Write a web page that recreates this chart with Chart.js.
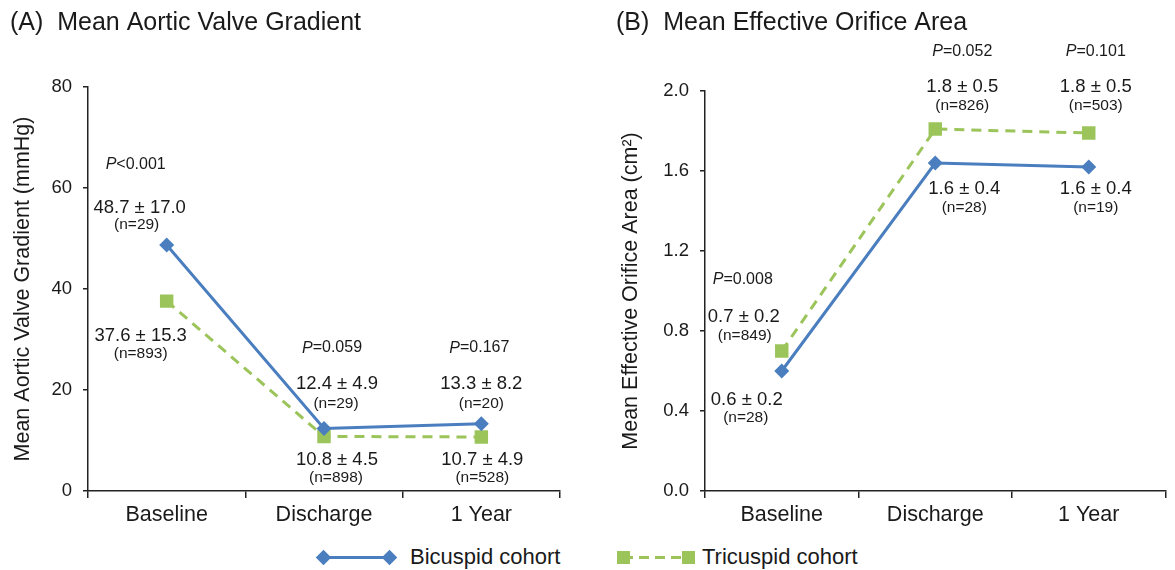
<!DOCTYPE html>
<html>
<head>
<meta charset="utf-8">
<script src="https://cdn.jsdelivr.net/npm/chart.js@4.4.1/dist/chart.umd.min.js"></script>
<style>
  body { margin: 0; background: #fff; }
  #wrap { position: relative; width: 1175px; height: 570px; overflow: hidden; font-family: "Liberation Sans", Arial, sans-serif; }
  #cA { position: absolute; left: 0; top: 0; }
  #cB { position: absolute; left: 590px; top: 0; }
  .legline { position: absolute; height: 3px; }
  .legmark { position: absolute; }
  .legtxt { position: absolute; font-size: 22px; line-height: 26px; color: #1a1a1a; white-space: nowrap; }
</style>
</head>
<body>
<div id="wrap">
  <canvas id="cA" width="590" height="540"></canvas>
  <canvas id="cB" width="585" height="540"></canvas>
</div>
<script>
const categories = ['Baseline', 'Discharge', '1 Year'];
const seriesNames = ['Bicuspid cohort', 'Tricuspid cohort'];

// (A) mean aortic valve gradient, mmHg
const gradBicuspid = [48.7, 12.4, 13.3];
const gradTricuspid = [37.6, 10.8, 10.7];
const gradTicks = [0, 20, 40, 60, 80];

// (B) mean effective orifice area, cm2
const eoaBicuspid = [0.6, 1.64, 1.62];
const eoaTricuspid = [0.7, 1.81, 1.79];
const eoaTicks = [0, 0.4, 0.8, 1.2, 1.6, 2.0];

// text next to the points: [category, y value, x shift, text, kind]
const gradNotes = [
  [0, 64.6, -31, 'P<0.001', 'p'],
  [0, 56.0, -27, '48.7 \u00b1 17.0', 'v'],
  [0, 52.7, -30, '(n=29)', 'n'],
  [0, 30.7, -26, '37.6 \u00b1 15.3', 'v'],
  [0, 27.1, -26, '(n=893)', 'n'],
  [1, 28.3, 8, 'P=0.059', 'p'],
  [1, 21.2, 13, '12.4 \u00b1 4.9', 'v'],
  [1, 17.2, 12, '(n=29)', 'n'],
  [1, 6.1, 13, '10.8 \u00b1 4.5', 'v'],
  [1, 2.6, 12, '(n=898)', 'n'],
  [2, 28.3, -2, 'P=0.167', 'p'],
  [2, 21.2, 0, '13.3 \u00b1 8.2', 'v'],
  [2, 17.2, 0, '(n=20)', 'n'],
  [2, 6.1, 1, '10.7 \u00b1 4.9', 'v'],
  [2, 2.6, 1, '(n=528)', 'n']
];
const eoaNotes = [
  [0, 1.055, -39, 'P=0.008', 'p'],
  [0, 0.87, -38, '0.7 \u00b1 0.2', 'v'],
  [0, 0.775, -37, '(n=849)', 'n'],
  [0, 0.455, -35, '0.6 \u00b1 0.2', 'v'],
  [0, 0.365, -36, '(n=28)', 'n'],
  [1, 2.195, 27, 'P=0.052', 'p'],
  [1, 2.02, 27, '1.8 \u00b1 0.5', 'v'],
  [1, 1.925, 27, '(n=826)', 'n'],
  [1, 1.51, 29, '1.6 \u00b1 0.4', 'v'],
  [1, 1.415, 29, '(n=28)', 'n'],
  [2, 2.195, 7, 'P=0.101', 'p'],
  [2, 2.02, 7, '1.8 \u00b1 0.5', 'v'],
  [2, 1.925, 7, '(n=503)', 'n'],
  [2, 1.51, 7, '1.6 \u00b1 0.4', 'v'],
  [2, 1.415, 7, '(n=19)', 'n']
];

const FONT = '"Liberation Sans", Arial, sans-serif';
const TXT = '#1a1a1a';
const AXIS = '#222';
const BLUE = '#4a7ebf';
const GREEN = '#9bc45a';

function notesPlugin(items) {
  return {
    id: 'notes',
    afterDraw(chart) {
      const ctx = chart.ctx;
      const x = chart.scales.x, y = chart.scales.y;
      ctx.save();
      ctx.fillStyle = TXT;
      ctx.textBaseline = 'middle';
      ctx.textAlign = 'left';
      items.forEach(n => {
        const cx = x.getPixelForValue(n[0]) + n[2];
        const cy = y.getPixelForValue(n[1]);
        if (n[4] === 'p') {
          // italic P, rest upright
          const rest = n[3].slice(1);
          ctx.font = 'italic 16px ' + FONT;
          const w1 = ctx.measureText('P').width;
          ctx.font = '16px ' + FONT;
          const w2 = ctx.measureText(rest).width;
          const x0 = cx - (w1 + w2) / 2;
          ctx.font = 'italic 16px ' + FONT;
          ctx.fillText('P', x0, cy);
          ctx.font = '16px ' + FONT;
          ctx.fillText(rest, x0 + w1, cy);
        } else {
          ctx.font = (n[4] === 'v' ? '18.5px ' : '15.5px ') + FONT;
          const w = ctx.measureText(n[3]).width;
          ctx.fillText(n[3], cx - w / 2, cy);
        }
      });
      ctx.restore();
    }
  };
}

function makeChart(id, opt) {
  return new Chart(document.getElementById(id), {
    type: 'line',
    data: {
      labels: categories,
      datasets: [
        {
          label: seriesNames[0],
          data: opt.bic,
          borderColor: BLUE,
          backgroundColor: BLUE,
          borderWidth: 3,
          tension: 0,
          pointStyle: 'rectRot',
          pointRadius: 7.5,
          pointBorderWidth: 0,
          pointBackgroundColor: BLUE
        },
        {
          label: seriesNames[1],
          data: opt.tri,
          borderColor: GREEN,
          backgroundColor: GREEN,
          borderWidth: 3,
          borderDash: [10, 7],
          tension: 0,
          pointStyle: 'rect',
          pointRadius: 9.5,
          pointBorderWidth: 0,
          pointBackgroundColor: GREEN
        }
      ]
    },
    options: {
      responsive: false,
      animation: false,
      events: [],
      layout: { padding: { left: opt.padLeft, right: opt.padRight, top: 0, bottom: 0 } },
      plugins: {
        legend: { display: false },
        tooltip: { enabled: false },
        title: {
          display: true,
          text: opt.title,
          align: 'start',
          color: TXT,
          font: { family: FONT, size: 25, weight: 'normal' },
          padding: { top: 8, bottom: opt.titleGap }
        }
      },
      scales: {
        x: {
          offset: true,
          border: { display: true, color: AXIS, width: 1.5 },
          grid: { offset: true, drawOnChartArea: false, drawTicks: true, tickLength: 7, color: AXIS, lineWidth: 1.5 },
          ticks: { color: TXT, padding: 4, font: { family: FONT, size: 21.5 }, maxRotation: 0 },
          afterFit: s => { s.height = 49; }
        },
        y: {
          min: opt.ticks[0],
          max: opt.ticks[opt.ticks.length - 1],
          border: { display: true, color: AXIS, width: 1.5 },
          grid: { drawOnChartArea: false, drawTicks: true, tickLength: 5, color: AXIS, lineWidth: 1.5 },
          afterBuildTicks: s => { s.ticks = opt.ticks.map(v => ({ value: v })); },
          ticks: {
            color: TXT,
            padding: 11,
            font: { family: FONT, size: 18.5 },
            callback: opt.fmt
          },
          title: {
            display: true,
            text: opt.yTitle,
            color: TXT,
            font: { family: FONT, size: 21.5 },
            padding: { top: opt.yTitlePad, bottom: 0 }
          },
          afterFit: s => { s.width = opt.yWidth; }
        }
      }
    },
    plugins: [notesPlugin(opt.notes)]
  });
}

makeChart('cA', {
  bic: gradBicuspid, tri: gradTricuspid, ticks: gradTicks, notes: gradNotes,
  title: '(A)  Mean Aortic Valve Gradient',
  yTitle: 'Mean Aortic Valve Gradient (mmHg)',
  fmt: v => String(v),
  padLeft: 10, padRight: 30, yWidth: 78, yTitlePad: 0, titleGap: 49
});

makeChart('cB', {
  bic: eoaBicuspid, tri: eoaTricuspid, ticks: eoaTicks, notes: eoaNotes,
  title: '(B)  Mean Effective Orifice Area',
  yTitle: 'Mean Effective Orifice Area (cm\u00b2)',
  fmt: v => Number(v).toFixed(1),
  padLeft: 26, padRight: 3, yWidth: 89, yTitlePad: 2, titleGap: 53
});

// shared legend under both panels
const wrap = document.getElementById('wrap');
function add(cls, css, text) {
  const d = document.createElement('div');
  d.className = cls;
  Object.assign(d.style, css);
  if (text) d.textContent = text;
  wrap.appendChild(d);
  return d;
}
const legY = 557;
add('legline', { left: '322px', width: '68px', top: (legY - 1.5) + 'px', background: BLUE });
[323, 389].forEach(cx => add('legmark', { left: (cx - 5.5) + 'px', top: (legY - 5.5) + 'px', width: '11px', height: '11px', background: BLUE, transform: 'rotate(45deg)' }));
add('legtxt', { left: '410px', top: (legY - 13) + 'px' }, seriesNames[0]);
add('legline', { left: '623px', width: '66px', top: (legY - 1.5) + 'px', background: 'repeating-linear-gradient(90deg,' + GREEN + ' 0 10px, transparent 10px 16px)' });
[623, 688].forEach(cx => add('legmark', { left: (cx - 6.5) + 'px', top: (legY - 6.5) + 'px', width: '13px', height: '13px', background: GREEN }));
add('legtxt', { left: '702px', top: (legY - 13) + 'px' }, seriesNames[1]);
</script>
</body>
</html>
